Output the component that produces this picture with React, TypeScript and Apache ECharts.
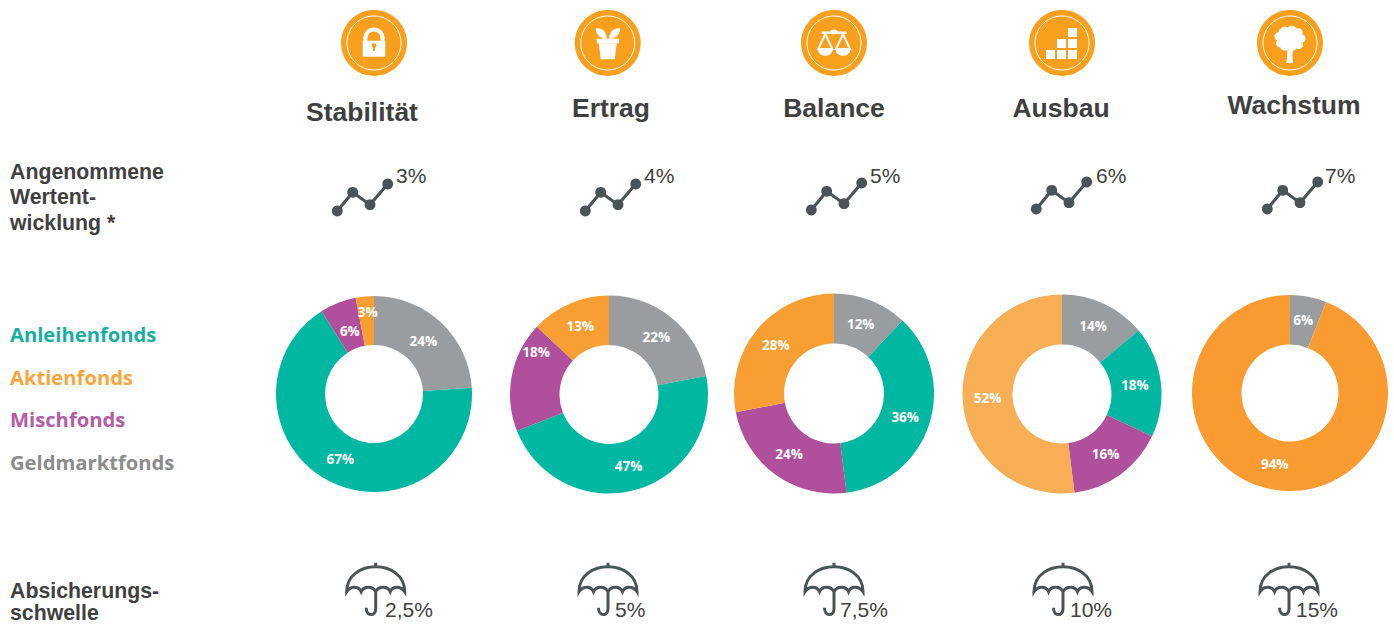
import React, { useEffect, useRef } from "react";
import * as echarts from "echarts";

const profiles = ["Stabilität", "Ertrag", "Balance", "Ausbau", "Wachstum"];
const growth = ["3%", "4%", "5%", "6%", "7%"];
const protection = ["2,5%", "5%", "7,5%", "10%", "15%"];
const legendNames = ["Anleihenfonds", "Aktienfonds", "Mischfonds", "Geldmarktfonds"];
const sliceOrder = ["Geldmarktfonds", "Anleihenfonds", "Mischfonds", "Aktienfonds"];
const geldmarktfonds = [24, 22, 12, 14, 6];
const anleihenfonds = [67, 47, 36, 18, 0];
const mischfonds = [6, 18, 24, 16, 0];
const aktienfonds = [3, 13, 28, 52, 94];
const growthRowTitle = ["Angenommene", "Wertent-", "wicklung *"];
const protectionRowTitle = ["Absicherungs-", "schwelle"];

const TEAL = "#00B8A1";
const ORANGE = "#F99E32";
const PURPLE = "#B0509C";
const GREY = "#9A9D9F";
const DARK = "#404040";
const ICON = "#4A5355";
const BADGE = "#F99F1E";
const sliceColors: Record<string, string> = {
  Geldmarktfonds: GREY,
  Anleihenfonds: TEAL,
  Mischfonds: PURPLE,
  Aktienfonds: ORANGE,
};
const legendColors: Record<string, string> = {
  Anleihenfonds: "#17AFA0",
  Aktienfonds: "#F9A53C",
  Mischfonds: "#B45CA4",
  Geldmarktfonds: "#8C8C8C",
};
const aktienOverride = ["", "", "", "#F7AE55", "#F99B30"];

const pieCenters = [[374, 394], [609, 394.5], [834, 393.5], [1062, 394], [1290, 393]];
const pieRadii = [[49, 98], [49.5, 99], [50, 100], [49.5, 99.5], [48.5, 98]];
const badgeX = [374, 607.7, 834, 1062, 1290];
const titlePos = [[362, 112], [611, 108], [834, 108], [1061, 108], [1294, 105]];
const sparkDx = [0, 248, 474, 699, 930];
const sparkDy = [0, 0, -1, -2, -2];
const growthX = [396, 644, 870, 1096, 1325];
const umbrellaX = [375.7, 608, 834, 1063, 1289];
const protectionX = [385, 615, 840, 1070, 1296];
const sparkPts = [[337.3, 211], [352.7, 192.3], [370, 204.7], [387.7, 184]];
const growthRowY = [171.5, 196.5, 222.5];
const protectionRowY = [590.5, 613];

// label nudges per pie and slice, in drawn order
const labelNudges = [
  [[-3, 3], [1, -3], [4, 8], [1, -6]],
  [[-2, 2], [-2, -3], [3, -28], [2, 2]],
  [[-2, 3], [-3, -1], [1, -3], [2, 1]],
  [[-2, 2], [-4, 1], [-2, -3], [3, -1]],
  [[-1, 2], [-1, -4]],
];

const UMBRELLA =
  "M-29,25 C-29,8 -14,0 0,0 C14,0 29,8 29,25 C25,19 17,19 14.5,25 C12,19 3,19 0,25 C-3,19 -12,19 -14.5,25 C-17,19 -25,19 -29,25 Z M0,-4 L0,0 M0,25 L0,42 C0,50 -9.5,50 -9.5,41";
const TREE =
  "M-2,0 C1,-3 6,-2 7,1 C11,0 14,3 13,7 C17,8 17,14 13,15 C15,19 11,23 7,21 C5,24 1,24 -1,22 L-1,22 C-4,24 -9,23 -9,20 C-13,20 -15,15 -12,13 C-17,11 -15,4 -11,5 C-11,1 -5,-2 -2,0 Z";
const TRUNK = "M-2.5,0 L3.5,0 C2.5,4 2.5,8 3.5,13 L-3.5,13 C-2.5,8 -2.5,4 -2.5,0 Z";
const LEAF_L = "M0,0 C6,-1 11,3 11,10 C5,11 0,6 0,0 Z";
const LEAF_R = "M11,0 C5,-1 0,3 0,10 C6,11 11,6 11,0 Z";
const POT = "M-9,0 L9,0 L7,16 L-7,16 Z";
const PAN = "M-7.5,0 L7.5,0 C7.5,9 -7.5,9 -7.5,0 Z";
const STRINGS = "M0,0 L-7,15 L7,15 Z";

echarts.graphic.registerShape("umbrella", echarts.graphic.extendPath(UMBRELLA, {}));
echarts.graphic.registerShape("tree", echarts.graphic.extendPath(TREE, {}));
echarts.graphic.registerShape("trunk", echarts.graphic.extendPath(TRUNK, {}));
echarts.graphic.registerShape("leafL", echarts.graphic.extendPath(LEAF_L, {}));
echarts.graphic.registerShape("leafR", echarts.graphic.extendPath(LEAF_R, {}));
echarts.graphic.registerShape("pot", echarts.graphic.extendPath(POT, {}));
echarts.graphic.registerShape("pan", echarts.graphic.extendPath(PAN, {}));
echarts.graphic.registerShape("strings", echarts.graphic.extendPath(STRINGS, {}));

const white = { fill: "#fff" };

function badgeGlyph(i: number, cx: number): any[] {
  const cy = 43;
  switch (i) {
    case 0:
      return [
        { type: "arc", shape: { cx, cy: cy - 5, r: 8.6, startAngle: Math.PI, endAngle: 0 }, style: { stroke: "#fff", lineWidth: 4, fill: "none" } },
        { type: "rect", shape: { x: cx - 10.6, y: cy - 6, width: 4, height: 6 }, style: white },
        { type: "rect", shape: { x: cx + 6.6, y: cy - 6, width: 4, height: 6 }, style: white },
        { type: "rect", shape: { x: cx - 11.3, y: cy - 2.3, width: 22.6, height: 16 }, style: white },
        { type: "circle", shape: { cx, cy: cy + 2.5, r: 2.4 }, style: { fill: BADGE } },
        { type: "rect", shape: { x: cx - 1, y: cy + 3, width: 2, height: 5 }, style: { fill: BADGE } },
      ];
    case 1:
      return [
        { type: "leafL", x: cx - 12, y: cy - 14.5, style: white },
        { type: "leafR", x: cx + 1.5, y: cy - 14.5, style: white },
        { type: "rect", shape: { x: cx - 11, y: cy - 4.3, width: 22.4, height: 4.6 }, style: white },
        { type: "pot", x: cx, y: cy + 0.3, style: white },
      ];
    case 2:
      return [
        { type: "rect", shape: { x: cx - 12.5, y: cy - 11.5, width: 25, height: 2.4 }, style: white },
        { type: "ellipse", shape: { cx, cy: cy - 11, rx: 4, ry: 2.4 }, style: white },
        { type: "strings", x: cx - 8.7, y: cy - 9, style: { stroke: "#fff", lineWidth: 2, fill: "none" } },
        { type: "strings", x: cx + 9, y: cy - 9, style: { stroke: "#fff", lineWidth: 2, fill: "none" } },
        { type: "pan", x: cx - 8.7, y: cy + 6, style: white },
        { type: "pan", x: cx + 9, y: cy + 6, style: white },
      ];
    case 3:
      return [
        [-16, 7], [-5, 7], [6, 7], [-5, -4], [6, -4], [6, -15],
      ].map(([dx, dy]) => ({ type: "rect", shape: { x: cx + dx, y: cy + dy, width: 9, height: 9 }, style: white }));
    default:
      return [
        { type: "tree", x: cx - 0.5, y: cy - 15.5, style: white },
        { type: "trunk", x: cx - 0.3, y: cy + 7, style: white },
      ];
  }
}

function buildGraphics(): any[] {
  const g: any[] = [];
  const label = (x: number, y: number, text: string, size: number, weight: string, align = "left") => ({
    type: "text",
    x,
    y,
    style: { text, x: 0, y: 0, fontFamily: "Liberation Sans", fontSize: size, fontWeight: weight, fill: DARK, align, verticalAlign: "middle", lineHeight: 18 },
  });
  profiles.forEach((name, i) => {
    const cx = badgeX[i];
    g.push({ type: "circle", shape: { cx, cy: 43, r: 33 }, style: { fill: BADGE } });
    g.push({ type: "circle", shape: { cx, cy: 43, r: 27 }, style: { fill: "none", stroke: "#fff", lineWidth: 1 } });
    g.push(...badgeGlyph(i, cx));
    g.push(label(titlePos[i][0], titlePos[i][1], name, 26.5, "bold", "center"));

    const pts = sparkPts.map(([x, y]) => [x + sparkDx[i], y + sparkDy[i]]);
    g.push({ type: "polyline", shape: { points: pts }, style: { stroke: ICON, lineWidth: 3.2, fill: "none" } });
    pts.forEach(([x, y]) => g.push({ type: "circle", shape: { cx: x, cy: y, r: 5.4 }, style: { fill: ICON } }));
    g.push(label(growthX[i], 175, growth[i], 21, "normal"));

    g.push({ type: "umbrella", x: umbrellaX[i], y: 566.7, style: { stroke: ICON, lineWidth: 3, fill: "none" } });
    g.push(label(protectionX[i], 609, protection[i], 21, "normal"));
  });
  growthRowTitle.forEach((t, i) => g.push(label(10, growthRowY[i], t, 21.3, "bold")));
  protectionRowTitle.forEach((t, i) => g.push(label(10, protectionRowY[i], t, 21.3, "bold")));
  return g;
}

function valueOf(name: string, i: number) {
  return { Geldmarktfonds: geldmarktfonds, Anleihenfonds: anleihenfonds, Mischfonds: mischfonds, Aktienfonds: aktienfonds }[name]![i];
}

export default function App() {
  const ref = useRef<HTMLDivElement>(null);
  useEffect(() => {
    const chart = echarts.init(ref.current!, null, { renderer: "svg" });
    chart.setOption({
      animation: false,
      backgroundColor: "#fff",
      legend: {
        orient: "vertical",
        left: 0,
        top: 318,
        icon: "rect",
        itemWidth: 0,
        itemHeight: 0,
        itemGap: 20.6,
        selectedMode: false,
        data: legendNames.map((name) => ({
          name,
          textStyle: { color: legendColors[name], fontFamily: "Open Sans", fontSize: 20.2, fontWeight: "bold", lineHeight: 22 },
        })),
      },
      graphic: buildGraphics(),
      series: profiles.map((p, i) => ({
        type: "pie",
        name: p,
        center: pieCenters[i],
        radius: pieRadii[i],
        startAngle: 90,
        clockwise: true,
        avoidLabelOverlap: false,
        labelLine: { show: false },
        label: {
          show: true,
          position: "inside",
          formatter: "{c}%",
          color: "#fff",
          fontFamily: "Open Sans",
          fontWeight: "bold",
          fontSize: 13.5,
        },
        labelLayout: (params: any) => {
          const [dx, dy] = labelNudges[i][params.dataIndex] || [0, 0];
          return { dx, dy };
        },
        itemStyle: { borderWidth: 0 },
        emphasis: { disabled: true },
        data: sliceOrder
          .filter((name) => valueOf(name, i) > 0)
          .map((name) => ({
            name,
            value: valueOf(name, i),
            itemStyle: { color: (name === "Aktienfonds" && aktienOverride[i]) || sliceColors[name] },
          })),
      })),
    });
    return () => chart.dispose();
  }, []);
  return <div ref={ref} style={{ position: "absolute", left: 0, top: 0, width: 1394, height: 624 }} />;
}
